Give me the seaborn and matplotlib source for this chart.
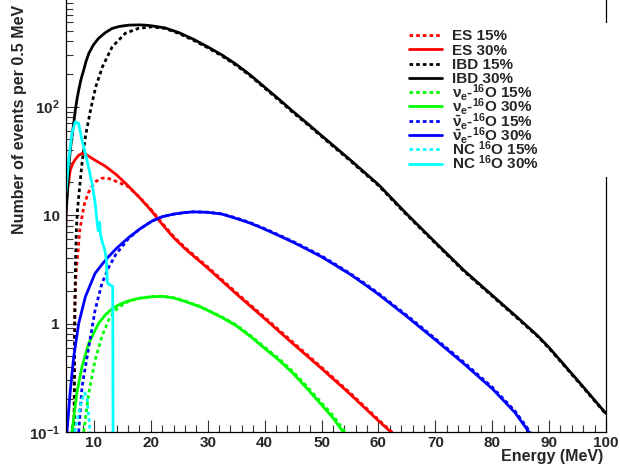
import matplotlib
matplotlib.use("Agg")
import matplotlib.pyplot as plt
import matplotlib.ticker as mticker
from matplotlib.legend_handler import HandlerLine2D
import seaborn as sns

# energies (MeV) and events per 0.5 MeV
ibd30_x = [5, 5.08, 5.44, 5.67, 5.9, 6.14, 6.44, 6.73, 7.0, 7.32, 7.75, 8.2, 8.6, 9.1, 9.9, 10.8, 12, 13.2,
           14.5, 16.1, 18, 19, 20, 22.5, 25, 27.5, 30, 32.5, 35, 37.5, 40, 42.5, 45, 47.5, 50, 55, 60, 65,
           70, 75, 80, 85, 88, 90, 95, 100]
ibd30_y = [4, 10, 19.6, 32, 42, 53, 70, 93, 115, 142, 180, 217, 260, 309, 370, 425, 480, 525,
           548, 563, 566, 563, 556, 531, 479, 417, 355, 299, 245, 195, 151, 117, 90, 70, 54, 32.4, 19.1, 10.2,
           5.6, 3.1, 1.82, 1.07, 0.77, 0.6, 0.3, 0.148]
ibd15_x = [6.52, 6.62, 6.75, 6.93, 7.1, 7.32, 7.9, 8.5, 9.4, 10.3, 11.5, 13.2, 15.5, 17.8, 20.1, 22.5, 25,
           27.5, 30, 32.5, 35, 37.5, 40, 42.5, 45, 47.5, 50, 55, 60, 65, 70, 75, 80, 85, 88, 90, 95, 100]
ibd15_y = [0.1, 1.0, 3.5, 7.8, 11, 14.8, 30, 53, 93, 151, 233, 355, 473, 525, 543, 525, 470, 408,
           348, 293, 240, 191, 148, 114.5, 88, 68.5, 53, 31.8, 18.7, 10.0, 5.5, 3.04, 1.79, 1.05, 0.76,
           0.59, 0.295, 0.146]

es30_x = [5, 5.1, 5.4, 5.84, 6.3, 6.72, 7.3, 7.9, 8.5, 9.2, 10.2, 12, 14, 16, 18, 20, 22, 24, 26, 28,
          30, 35, 40, 45, 50, 55, 60, 62, 63]
es30_y = [6.3, 12, 18, 26, 30, 32.5, 35.5, 37, 36.5, 34.5, 32, 28.2, 23.4, 18.6, 14.5, 11.1, 8.2, 6.2, 4.9,
          3.98, 3.24, 1.88, 1.11, 0.65, 0.385, 0.224, 0.127, 0.102, 0.091]
es15_x = [6.5, 6.57, 6.63, 6.75, 6.93, 7.23, 7.5, 7.9, 8.3, 9.0, 9.6, 10.4, 11.3, 12.2, 13.1, 14.5, 16, 18,
          20, 22, 24, 26, 28, 30, 35, 40, 45, 50, 55, 60, 62, 63]
es15_y = [0.1, 0.5, 1.33, 2.2, 3.3, 4.75, 7.2, 9.6, 12.5, 16, 18.2, 20.5, 21.8, 22, 21.3, 19.8, 18.3, 14.6,
          11.3, 8.4, 6.35, 5.02, 4.08, 3.32, 1.93, 1.14, 0.67, 0.395, 0.23, 0.13, 0.104, 0.093]

nue30_x = [6.14, 7.0, 7.9, 9.1, 10.8, 12, 13.2, 14.5, 16.1, 18, 20, 22, 24, 26, 28.6, 30, 32.5, 35, 37.5,
           40, 42.5, 45, 47.5, 50, 52, 53.8, 54.5]
nue30_y = [0.1, 0.23, 0.4, 0.66, 1.0, 1.2, 1.37, 1.5, 1.62, 1.71, 1.76, 1.78, 1.72, 1.6, 1.43, 1.32, 1.135,
           0.955, 0.76, 0.59, 0.46, 0.347, 0.25, 0.178, 0.135, 0.1, 0.089]
nue15_x = [8.2, 9.1, 10.2, 11.4, 12.6, 13.5, 14.5, 16.1, 18, 20, 22, 24, 26, 28.6, 30, 32.5, 35, 37.5, 40,
           42.5, 45, 47.5, 50, 52, 53.8, 54.5]
nue15_y = [0.1, 0.23, 0.46, 0.76, 1.08, 1.28, 1.43, 1.6, 1.71, 1.77, 1.79, 1.73, 1.61, 1.44, 1.33, 1.15,
           0.97, 0.775, 0.605, 0.475, 0.36, 0.26, 0.186, 0.142, 0.106, 0.094]

anue30_x = [5.26, 5.84, 6.44, 7.32, 8.5, 10.2, 11.4, 12.6, 14, 16.1, 18, 20.2, 22, 24, 26, 27.5, 30, 32.5,
            35, 37.5, 40, 42.5, 45, 47.5, 50, 52.5, 55, 57.5, 60, 62.5, 65, 67.5, 70, 72.5, 75, 77.5, 80,
            82, 84, 86, 87]
anue30_y = [0.1, 0.24, 0.49, 1.0, 1.77, 2.9, 3.5, 4.15, 4.95, 6.2, 7.4, 8.8, 9.65, 10.2, 10.55, 10.7, 10.6,
            10.2, 9.3, 8.4, 7.41, 6.46, 5.62, 4.82, 4.12, 3.43, 2.85, 2.31, 1.86, 1.47, 1.16, 0.906, 0.708,
            0.55, 0.427, 0.327, 0.251, 0.195, 0.151, 0.108, 0.091]
anue15_x = [7.32, 7.9, 9.1, 10.2, 11.4, 12.6, 13.8, 16.1, 18, 20.2, 22, 24, 26, 27.5, 30, 32.5, 35, 37.5,
            40, 42.5, 45, 47.5, 50, 52.5, 55, 57.5, 60, 62.5, 65, 67.5, 70, 72.5, 75, 77.5, 80, 82, 84, 86,
            87]
anue15_y = [0.1, 0.26, 0.61, 1.33, 2.34, 3.3, 4.3, 6.1, 7.4, 8.8, 9.65, 10.2, 10.55, 10.7, 10.6, 10.25,
            9.4, 8.5, 7.5, 6.55, 5.7, 4.9, 4.2, 3.5, 2.9, 2.36, 1.9, 1.5, 1.19, 0.93, 0.725, 0.565, 0.44,
            0.337, 0.259, 0.201, 0.156, 0.112, 0.094]

nc30_x = [5, 5.3, 5.56, 6.14, 6.72, 7.3, 7.9, 8.78, 9.66, 10.2, 10.6, 10.75, 11.0, 11.1, 11.4, 11.9, 12.2,
          12.35, 12.6, 13.3, 13.4]
nc30_y = [14.8, 22, 32, 57, 72, 70, 49, 32, 19.6, 13, 8.2, 7.2, 8.6, 6.8, 5.8, 4.75, 3.8, 2.4, 2.3, 2.2,
          0.01]
nc15_x = [6.6, 7.2, 7.9, 8.4, 8.8, 9.2, 9.5]
nc15_y = [0.1, 0.14, 0.2, 0.23, 0.2, 0.12, 0.07]

labels = ['ES 15%', 'ES 30%', 'IBD 15%', 'IBD 30%',
          r'$\nu_{e}$-$^{16}$O 15%', r'$\nu_{e}$-$^{16}$O 30%',
          r'$\bar{\nu}_{e}$-$^{16}$O 15%', r'$\bar{\nu}_{e}$-$^{16}$O 30%',
          r'NC $^{16}$O 15%', r'NC $^{16}$O 30%']
series = [(es15_x, es15_y), (es30_x, es30_y), (ibd15_x, ibd15_y), (ibd30_x, ibd30_y),
          (nue15_x, nue15_y), (nue30_x, nue30_y), (anue15_x, anue15_y), (anue30_x, anue30_y),
          (nc15_x, nc15_y), (nc30_x, nc30_y)]
colors = ['#ff0000', '#ff0000', '#000000', '#000000', '#00ff00', '#00ff00',
          '#0000ff', '#0000ff', '#00ffff', '#00ffff']

ytick_vals = [0.1, 1, 10, 100]
ytick_labels = [r'10$^{-1}$', '1', '10', r'10$^{2}$']

LEG_FS = 11


class LowerLine(HandlerLine2D):
    # handle boxes are made tall so all rows get one height; move the line back to mid-cap
    def create_artists(self, legend, orig_handle, xdescent, ydescent, width, height, fontsize, trans):
        arts = super().create_artists(legend, orig_handle, xdescent, ydescent, width, height,
                                      fontsize, trans)
        for a in arts:
            a.set_ydata([y - 0.22 * fontsize for y in a.get_ydata()])
        return arts


sns.set_style('ticks')
plt.rcParams['font.family'] = ['Liberation Sans', 'DejaVu Sans']
plt.rcParams['font.weight'] = 'bold'
plt.rcParams['mathtext.fontset'] = 'custom'
plt.rcParams['mathtext.rm'] = 'Liberation Sans:bold'
plt.rcParams['mathtext.it'] = 'Liberation Sans:bold'
plt.rcParams['mathtext.bf'] = 'Liberation Sans:bold'

fig = plt.figure(figsize=(6.2, 4.69), dpi=100)
ax = fig.add_axes([65.5 / 620, 1 - 432 / 469, 540.5 / 620, 432 / 469])

for i, (xs, ys) in enumerate(series):
    ls = (0, (1.3, 1.1)) if i % 2 == 0 else '-'
    sns.lineplot(x=xs, y=ys, ax=ax, color=colors[i], linestyle=ls, lw=2.0,
                 label=labels[i], sort=False, estimator=None)

ax.set_yscale('log')
ax.set_xlim(5, 100)
ax.set_ylim(0.1, 960)
ax.set_xlabel('')
ax.set_ylabel('')

ax.xaxis.set_major_locator(mticker.MultipleLocator(10))
ax.xaxis.set_minor_locator(mticker.MultipleLocator(2))
ax.set_yticks(ytick_vals, ytick_labels)
ax.yaxis.set_minor_locator(mticker.LogLocator(base=10, subs=range(2, 10)))
ax.yaxis.set_minor_formatter(mticker.NullFormatter())
ax.tick_params(which='both', direction='in', color='#333333', width=0.8,
               labelsize=11, top=False, right=False)
ax.tick_params(which='major', length=9)
ax.tick_params(which='minor', length=5)
ax.tick_params(axis='y', pad=4)
ax.tick_params(axis='x', pad=3)
for lab in ax.get_xticklabels() + ax.get_yticklabels():
    lab.set_fontweight('bold')

ax.spines['top'].set_visible(False)
for s in ['left', 'bottom', 'right']:
    ax.spines[s].set_color('black')
    ax.spines[s].set_linewidth(0.9)

handles, _ = ax.get_legend_handles_labels()
leg = ax.legend(handles, labels, loc='upper left', bbox_to_anchor=(0.636, 0.6, 0.375, 0.347),
                mode='expand', borderaxespad=0, frameon=True, fancybox=False, framealpha=1,
                prop={'weight': 'bold', 'size': LEG_FS}, handlelength=2.13, handletextpad=0.7,
                handleheight=2.2, labelspacing=-0.74, borderpad=0.0,
                handler_map={h: LowerLine() for h in handles})
leg.get_frame().set_edgecolor('none')
leg.get_frame().set_facecolor('white')

fig.text(603 / 620, 1 - 456 / 469, 'Energy (MeV)', ha='right', va='center',
         fontsize=11.5, fontweight='bold')
fig.text(20 / 620, 1 - 234 / 469, 'Number of events per 0.5 MeV', rotation=90,
         ha='center', va='bottom', fontsize=11.5, fontweight='bold')

fig.savefig('out.png', dpi=100)
